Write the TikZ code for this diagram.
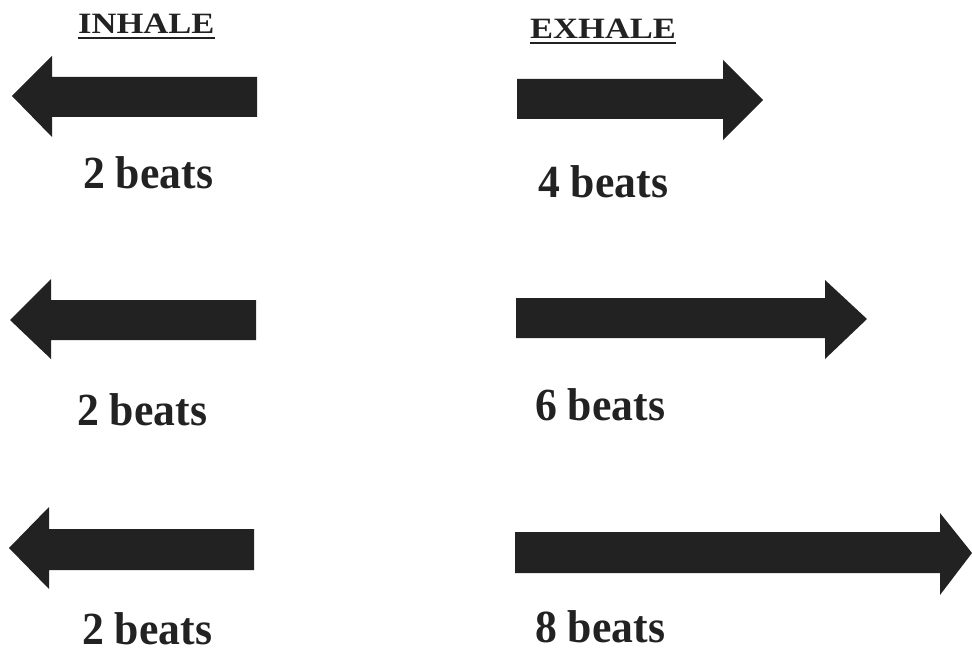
\documentclass[tikz,border=0pt]{standalone}
\usepackage{fontspec}
\setmainfont{Liberation Serif}
\newfontfamily\labfont{Liberation Serif}[FakeStretch=0.95]
\newfontfamily\headfont{Liberation Serif}[FakeStretch=1.17]
\definecolor{ink}{HTML}{222222}
\tikzset{
  arrowfill/.style={fill=ink, draw=none},
  beatlabel/.style={anchor=base west, inner sep=0pt, text depth=0pt, text=ink, font=\labfont\bfseries\fontsize{46}{54}\selectfont},
  heading/.style={anchor=base west, inner sep=0pt, text depth=0pt, text=ink, font=\headfont\bfseries\fontsize{29.5}{34}\selectfont},
  uline/.style={draw=ink, line width=1.6pt}
}
% left-pointing arrow: tip x, tip y, head back x, head top, head bottom, shaft top, shaft bottom, shaft end
\newcommand\leftarr[8]{\fill[arrowfill] (#1,#2) -- (#3,#4) -- (#3,#6) -- (#8,#6) -- (#8,#7) -- (#3,#7) -- (#3,#5) -- cycle;}
% right-pointing arrow: shaft start, shaft top, shaft bottom, head back x, head top, head bottom, tip x, tip y
\newcommand\rightarr[8]{\fill[arrowfill] (#1,#2) -- (#4,#2) -- (#4,#5) -- (#7,#8) -- (#4,#6) -- (#4,#3) -- (#1,#3) -- cycle;}
\begin{document}
\begin{tikzpicture}[x=1pt,y=-1pt]
\useasboundingbox (0,0) rectangle (972,650);
% headings
\node[heading] (inh) at (78,34) {INHALE};
\node[heading] (exh) at (530,39) {EXHALE};
\draw[uline] ([yshift=-4pt]inh.base west) -- ([yshift=-4pt]inh.base east);
\draw[uline] ([yshift=-4pt]exh.base west) -- ([yshift=-4pt]exh.base east);
% row 1
\leftarr{12}{96}{52}{56}{137}{77}{117}{257}
\rightarr{517}{79}{119}{723}{60}{140}{763}{100}
\node[beatlabel] (l1) at (83,189) {2 beats};
\node[beatlabel] (r1) at (538,197) {4 beats};
% row 2
\leftarr{10}{320}{51}{279}{359}{300}{340}{256}
\rightarr{516}{298}{338}{825}{280}{359}{867}{319}
\node[beatlabel] (l2) at (77,425) {2 beats};
\node[beatlabel] (r2) at (535,420) {6 beats};
% row 3
\leftarr{9}{548}{49}{507}{589}{529}{570}{254}
\rightarr{515}{532}{573}{940}{513}{595}{972}{553}
\node[beatlabel] (l3) at (82,644) {2 beats};
\node[beatlabel] (r3) at (535,642) {8 beats};
\end{tikzpicture}
\end{document}
